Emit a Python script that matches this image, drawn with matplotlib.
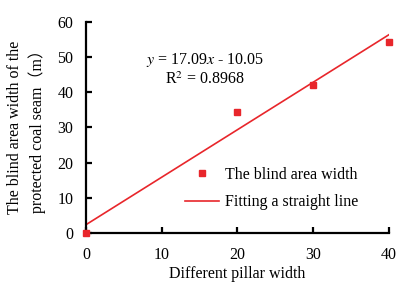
import matplotlib
matplotlib.use("Agg")
import matplotlib.pyplot as plt
import numpy as np

# pillar width vs blind area width
pillar_width = [0, 20, 30, 40]
blind_width = [0, 34.3, 42.2, 54.4]
fit_x = [0, 40]

plt.rcParams['font.family'] = ['Liberation Serif', 'DejaVu Serif']
plt.rcParams['mathtext.fontset'] = 'stix'

red = '#e8262b'
fs = 11.5

fig = plt.figure(figsize=(4.15, 2.9), dpi=100)
ax = fig.add_axes([0.207, 0.197, 0.730, 0.727])

# least squares line through the points
k, b = np.polyfit(pillar_width, blind_width, 1)
fx = np.array(fit_x)
ax.plot(pillar_width, blind_width, 's', color=red, markersize=4.5,
        label='The blind area width', clip_on=False, zorder=3)
ax.plot(fx, k * fx + b, '-', color=red, linewidth=1.2,
        label='Fitting a straight line')

ax.set_xlim(0, 40)
ax.set_ylim(0, 60)
ax.set_xticks([0, 10, 20, 30, 40])
ax.set_yticks([0, 10, 20, 30, 40, 50, 60])

for s in ['top', 'right']:
    ax.spines[s].set_visible(False)
for s in ['left', 'bottom']:
    ax.spines[s].set_linewidth(1.6)
ax.tick_params(axis='both', direction='in', length=4, width=1.6,
               labelsize=fs)
ax.tick_params(axis='x', pad=10)
ax.tick_params(axis='y', pad=9)

ax.set_xlabel('Different pillar width', fontsize=fs, labelpad=2)
ax.set_ylabel('The blind area width of the\nprotected coal seam\uff08m\uff09',
              fontsize=fs, linespacing=1.35, va='center', ha='center',
              family=['Liberation Serif', 'Noto Sans CJK SC'])
ax.yaxis.set_label_coords(-0.196, 0.5)

ax.text(15.7, 49.2, '$y$ = 17.09$x$ - 10.05', fontsize=fs, ha='center', va='center')
ax.text(15.7, 43.5, 'R$^2$ = 0.8968', fontsize=fs, ha='center', va='center')

ax.legend(loc='upper left', bbox_to_anchor=(0.446, 0.424),
          bbox_transform=fig.transFigure, frameon=False, borderpad=0,
          borderaxespad=0, fontsize=fs, handlelength=2.1,
          handletextpad=0.4, labelspacing=0.7)

fig.savefig('out.png', dpi=100)
